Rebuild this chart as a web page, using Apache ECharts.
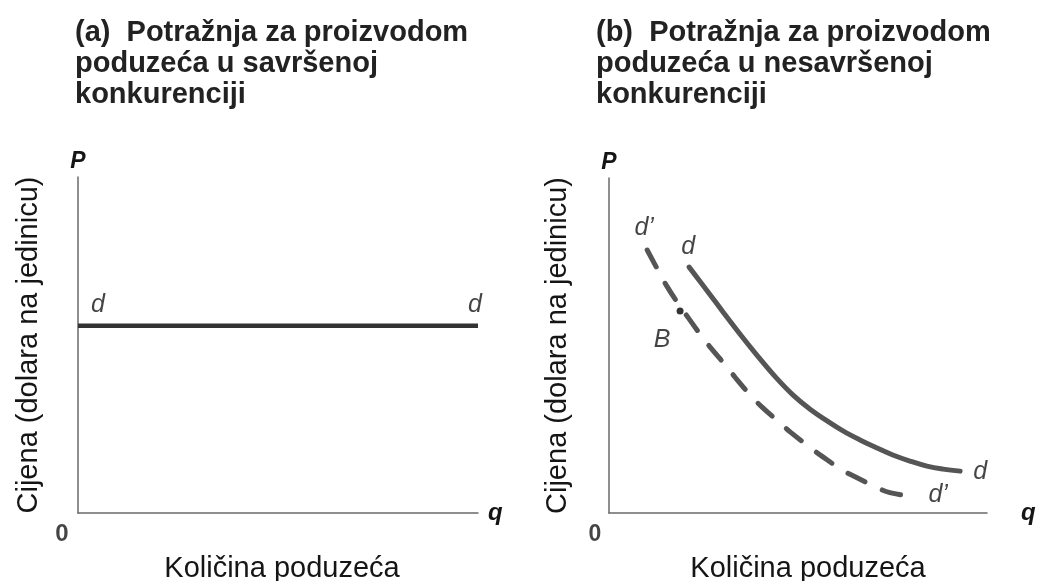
<!DOCTYPE html>
<html>
<head>
<meta charset="utf-8">
<script src="https://cdn.jsdelivr.net/npm/echarts@6/dist/echarts.min.js"></script>
<style>
html,body{margin:0;padding:0;background:#fff;}
#chart{width:1037px;height:581px;}
</style>
</head>
<body>
<div id="chart"></div>
<script>
// ---- data ----
const titleA = ['(a)  Potražnja za proizvodom', 'poduzeća u savršenoj', 'konkurenciji'];
const titleB = ['(b)  Potražnja za proizvodom', 'poduzeća u nesavršenoj', 'konkurenciji'];
const xAxisTitle = 'Količina poduzeća';
const yAxisTitle = 'Cijena (dolara na jedinicu)';
const priceSymbol = 'P';
const qtySymbol = 'q';
const originLabel = '0';

// (a) perfectly elastic demand d
const perfectQ = [0, 100];
const perfectP = [55.7, 55.7];

// (b) demand curve d (solid)
const dQ = [21.2, 26.0, 30.5, 35.0, 39.5, 44.2, 48.7, 53.2, 57.7, 61.9, 66.4, 70.9, 75.1, 79.6, 84.1, 88.4, 92.9];
const dP = [73.4, 66.3, 59.5, 52.9, 46.6, 40.4, 35.2, 31.0, 27.5, 24.5, 21.8, 19.4, 17.3, 15.5, 14.0, 13.1, 12.5];

// (b) demand curve d' (dashed)
const dPrimeQ = [10.1, 13.0, 15.1, 18.0, 20.9, 24.6, 26.7, 31.2, 33.3, 37.6, 40.5, 45.2, 47.9, 53.2, 56.4, 61.6, 65.1, 70.9, 74.3, 81.0];
const dPrimeP = [78.5, 72.4, 68.1, 63.0, 58.4, 52.6, 49.6, 43.6, 40.6, 34.9, 31.6, 26.9, 24.2, 19.6, 16.9, 12.9, 10.8, 7.6, 6.1, 4.8];

// point B
const pointB = [18.8, 60.3];
const pointBLabel = 'B';
const dLabel = 'd';
const dPrimeLabel = 'd’';

// ---- build ----
const zip = (a, b) => a.map((v, i) => [v, b[i]]);
const FONT = '"Liberation Sans", Arial, Helvetica, sans-serif';
const axisColor = '#6a6a6a';
const textColor = '#151515';

function xAx(gridIndex, nameGap) {
  return {
    type: 'value', gridIndex, min: 0, max: 100, position: 'bottom',
    axisLine: { show: true, lineStyle: { color: axisColor, width: 1.5 } },
    axisTick: { show: false }, axisLabel: { show: false }, splitLine: { show: false },
    name: qtySymbol, nameLocation: 'end', nameGap,
    nameTextStyle: { fontFamily: FONT, fontSize: 24, fontStyle: 'italic', fontWeight: 'bold', color: textColor, verticalAlign: 'middle', padding: [4, 0, 0, 0] }
  };
}
function xAxTitle(gridIndex, pad) {
  return {
    type: 'value', gridIndex, min: 0, max: 100, position: 'bottom', offset: 0,
    axisLine: { show: false }, axisTick: { show: false }, axisLabel: { show: false }, splitLine: { show: false },
    name: xAxisTitle, nameLocation: 'middle', nameGap: 41,
    nameTextStyle: { fontFamily: FONT, fontSize: 29, color: textColor, padding: pad }
  };
}
function yAx(gridIndex) {
  return {
    type: 'value', gridIndex, min: 0, max: 100, position: 'left',
    axisLine: { show: true, lineStyle: { color: axisColor, width: 1.5 } },
    axisTick: { show: false }, axisLabel: { show: false }, splitLine: { show: false },
    name: priceSymbol, nameLocation: 'end', nameGap: 4,
    nameTextStyle: { fontFamily: FONT, fontSize: 23, fontStyle: 'italic', fontWeight: 'bold', color: textColor, align: 'center' }
  };
}
function yAxTitle(gridIndex, gap) {
  return {
    type: 'value', gridIndex, min: 0, max: 100, position: 'left', offset: 0,
    axisLine: { show: false }, axisTick: { show: false }, axisLabel: { show: false }, splitLine: { show: false },
    name: yAxisTitle, nameLocation: 'middle', nameGap: gap,
    nameTextStyle: { fontFamily: FONT, fontSize: 29, color: textColor }
  };
}

const labelStyle = { fontFamily: FONT, fontSize: 25, fontStyle: 'italic', color: textColor };

function annot(xi, yi, pt, text, offset, extra) {
  return {
    type: 'scatter', xAxisIndex: xi, yAxisIndex: yi, silent: true, clip: false,
    symbolSize: 0, z: 5,
    data: [{ value: pt, name: text }],
    label: Object.assign({ show: true, position: 'inside', formatter: '{b}', offset }, labelStyle, extra || {})
  };
}

const option = {
  backgroundColor: '#fff',
  animation: false,
  title: [
    { text: titleA.join('\n'), left: 70, top: 12,
      textStyle: { fontFamily: FONT, fontSize: 29, fontWeight: 'bold', color: '#222', lineHeight: 31 } },
    { text: titleB.join('\n'), left: 591, top: 12,
      textStyle: { fontFamily: FONT, fontSize: 29, fontWeight: 'bold', color: '#222', lineHeight: 31 } }
  ],
  grid: [
    { left: 78, top: 177, width: 400, height: 336, containLabel: false, outerBoundsMode: 'none' },
    { left: 609, top: 178, width: 378, height: 335, containLabel: false, outerBoundsMode: 'none' }
  ],
  xAxis: [ xAx(0, 10), xAx(1, 34), xAxTitle(0, [0,0,0,8]), xAxTitle(1, [0,0,0,20]) ],
  yAxis: [ yAx(0), yAx(1), yAxTitle(0, 35), yAxTitle(1, 37) ],
  series: [
    { type: 'line', xAxisIndex: 0, yAxisIndex: 0, data: zip(perfectQ, perfectP), showSymbol: false, silent: true,
      lineStyle: { color: '#333', width: 4.5 } },
    { type: 'line', xAxisIndex: 1, yAxisIndex: 1, data: zip(dQ, dP), smooth: 0.4, showSymbol: false, silent: true,
      lineStyle: { color: '#555', width: 5, cap: 'round' } },
    { type: 'line', xAxisIndex: 1, yAxisIndex: 1, data: zip(dPrimeQ, dPrimeP), smooth: 0.4, showSymbol: false, silent: true,
      lineStyle: { color: '#555', width: 5, type: [19, 19], cap: 'round' } },
    { type: 'scatter', xAxisIndex: 1, yAxisIndex: 1, data: [pointB], symbolSize: 7, silent: true, z: 6,
      itemStyle: { color: '#000' } },
    // labels anchored to data points
    annot(0, 0, [perfectQ[0], perfectP[0]], dLabel, [20, -21]),
    annot(0, 0, [perfectQ[1], perfectP[1]], dLabel, [-3, -21]),
    annot(1, 1, [dQ[0], dP[0]], dLabel, [-1, -20]),
    annot(1, 1, [dQ[dQ.length - 1], dP[dP.length - 1]], dLabel, [20, 1]),
    annot(1, 1, [dPrimeQ[0], dPrimeP[0]], dPrimeLabel, [-3, -22]),
    annot(1, 1, [dPrimeQ[dPrimeQ.length - 1], dPrimeP[dPrimeP.length - 1]], dPrimeLabel, [23, -2]),
    annot(1, 1, pointB, pointBLabel, [-18, 29]),
    annot(0, 0, [0, 0], originLabel, [-16, 21], { fontStyle: 'normal', fontWeight: 'bold', fontSize: 24 }),
    annot(1, 1, [0, 0], originLabel, [-14, 22], { fontStyle: 'normal', fontWeight: 'bold', fontSize: 23 })
  ]
};

const chart = echarts.init(document.getElementById('chart'), null, { renderer: 'canvas' });
chart.setOption(option);
</script>
</body>
</html>
